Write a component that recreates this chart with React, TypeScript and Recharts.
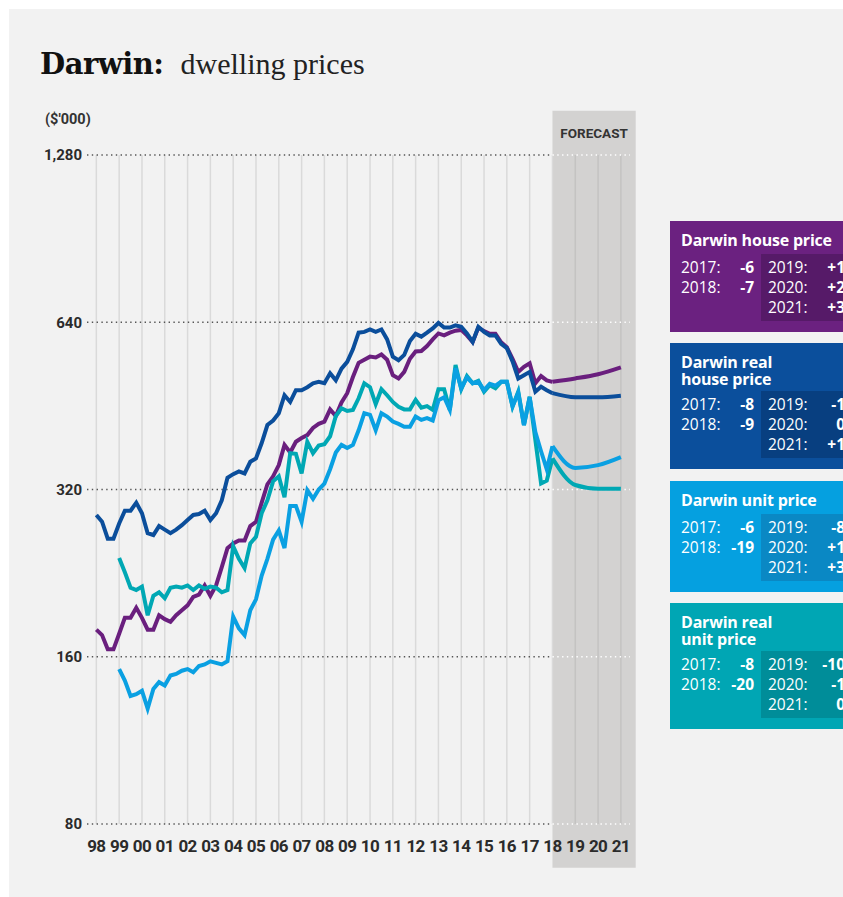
import React from "react";
import {
  LineChart,
  Line,
  XAxis,
  YAxis,
  ReferenceArea,
  ReferenceLine,
} from "recharts";

// x axis: one tick per year, labelled with two digits
const years = [
  1998, 1999, 2000, 2001, 2002, 2003, 2004, 2005, 2006, 2007, 2008, 2009,
  2010, 2011, 2012, 2013, 2014, 2015, 2016, 2017, 2018, 2019, 2020, 2021,
];
const yearLabels = [
  "98", "99", "00", "01", "02", "03", "04", "05", "06", "07", "08", "09",
  "10", "11", "12", "13", "14", "15", "16", "17", "18", "19", "20", "21",
];
const priceTicks = [80, 160, 320, 640, 1280];

// quarterly history, 1998 Q1 .. 2018 Q1 ($'000)
const housePrice = [
  179, 175, 165, 165, 176, 188, 188, 196, 188, 179, 179, 190,
  187, 185, 190, 194, 198, 205, 207, 215, 206, 215, 232, 251,
  256, 259, 259, 275, 280, 303, 327, 338, 354, 385, 373, 390,
  396, 401, 413, 420, 424, 446, 434, 459, 477, 510, 541, 548,
  555, 553, 560, 548, 514, 507, 521, 550, 567, 568, 580, 596,
  611, 606, 613, 618, 620, 606, 590, 626, 617, 610, 610, 589,
  577, 550, 521, 532, 540, 497, 512, 503, 500,
];
const realHousePrice = [
  288, 280, 261, 261, 278, 293, 293, 303, 290, 267, 265, 275,
  271, 267, 271, 276, 282, 288, 289, 293, 282, 290, 306, 336,
  341, 345, 342, 359, 364, 388, 418, 426, 439, 473, 460, 483,
  483, 489, 497, 500, 497, 518, 503, 528, 543, 572, 613, 615,
  621, 615, 621, 596, 555, 547, 559, 592, 610, 603, 613, 624,
  638, 626, 626, 632, 628, 611, 590, 628, 615, 606, 606, 585,
  575, 544, 507, 514, 521, 480, 490, 483, 477,
];
const unitPrice = [
  null, null, null, null, 152, 145, 136, 137, 139, 129, 140, 144,
  142, 148, 149, 151, 152, 150, 154, 155, 157, 156, 155, 157,
  189, 180, 175, 194, 203, 224, 240, 260, 270, 251, 299, 299,
  280, 319, 308, 320, 328, 348, 373, 385, 380, 385, 409, 439,
  436, 409, 439, 433, 424, 420, 415, 415, 433, 427, 430, 426,
  463, 469, 445, 529, 487, 509, 497, 500, 483, 496, 492, 500,
  500, 452, 478, 418, 469, 406, 375, 348, 383,
];
const realUnitPrice = [
  null, null, null, null, 241, 227, 213, 211, 214, 190, 206, 209,
  204, 213, 214, 213, 215, 211, 215, 212, 214, 213, 209, 211,
  253, 240, 231, 256, 263, 290, 306, 331, 338, 310, 372, 371,
  342, 390, 372, 384, 386, 399, 434, 448, 443, 445, 467, 497,
  489, 456, 485, 473, 460, 451, 446, 446, 464, 449, 452, 445,
  485, 485, 445, 536, 485, 512, 497, 502, 480, 493, 487, 500,
  500, 451, 480, 418, 470, 393, 328, 332, 364,
];

// annual forecast
const forecastYears = [2018, 2019, 2020, 2021];
const houseForecast = [500, 507, 516, 531];
const realHouseForecast = [477, 469, 469, 472];
const unitForecast = [383, 350, 354, 366];
const realUnitForecast = [364, 326, 321, 321];

// boxes on the right
const boxTitles = [
  ["Darwin house price"],
  ["Darwin real", "house price"],
  ["Darwin unit price"],
  ["Darwin real", "unit price"],
];
const pastYears = ["2017:", "2018:"];
const futureYears = ["2019:", "2020:", "2021:"];
const houseChange = ["-6", "-7", "+1", "+2", "+3"];
const realHouseChange = ["-8", "-9", "-1", "0", "+1"];
const unitChange = ["-6", "-19", "-8", "+1", "+3"];
const realUnitChange = ["-8", "-20", "-10", "-1", "0"];

const C_HOUSE = "#6a1f7e";
const C_REAL_HOUSE = "#0b4e9b";
const C_UNIT = "#0aa0e2";
const C_REAL_UNIT = "#00a8b4";

const X_MIN = 1997.59;
const X_MAX = 2021.4;

const rows: any[] = housePrice.map((v, i) => ({
  t: 1998 + i / 4,
  house: v,
  realHouse: realHousePrice[i],
  unit: unitPrice[i],
  realUnit: realUnitPrice[i],
}));
forecastYears.forEach((yr, i) => {
  let row = rows.find((r) => r.t === yr);
  if (!row) {
    row = { t: yr };
    rows.push(row);
  }
  row.houseF = houseForecast[i];
  row.realHouseF = realHouseForecast[i];
  row.unitF = unitForecast[i];
  row.realUnitF = realUnitForecast[i];
});

const sans = "Roboto, 'Noto Sans', sans-serif";
const boxFont = "'Open Sans', 'Noto Sans', sans-serif";

function InfoBox({ top, title, values, bg, inner }: any) {
  const extra = (title.length - 1) * 15;
  const innerTop = 33 + extra;
  const rowY = (i: number) => innerTop + 13 + i * 20 - 9;
  const txt = { position: "absolute", top: 0, fontSize: 15.5, lineHeight: "18px", whiteSpace: "nowrap" } as const;
  return (
    <div
      style={{
        position: "absolute",
        left: 670,
        top,
        width: 190,
        height: 111 + extra,
        background: bg,
        color: "#fff",
        fontFamily: boxFont,
      }}
    >
      <div
        style={{
          position: "absolute",
          left: 11,
          top: 11,
          fontSize: 16,
          fontWeight: 700,
          lineHeight: "16.6px",
          letterSpacing: -0.2,
          whiteSpace: "nowrap",
        }}
      >
        {title.map((t: string, i: number) => (
          <React.Fragment key={t}>
            {i > 0 && <br />}
            {t}
          </React.Fragment>
        ))}
      </div>
      <div
        style={{
          position: "absolute",
          left: 91,
          top: innerTop,
          width: 99,
          height: 67,
          background: inner,
        }}
      />
      {pastYears.map((y, i) => (
        <React.Fragment key={y}>
          <div style={{ ...txt, left: 11, top: rowY(i), fontWeight: 400 }}>{y}</div>
          <div style={{ ...txt, right: 190 - 84, top: rowY(i), fontWeight: 700 }}>{values[i]}</div>
        </React.Fragment>
      ))}
      {futureYears.map((y, i) => (
        <React.Fragment key={y}>
          <div style={{ ...txt, left: 98, top: rowY(i), fontWeight: 400 }}>{y}</div>
          <div style={{ ...txt, right: 190 - 175, top: rowY(i), fontWeight: 700 }}>{values[i + 2]}</div>
        </React.Fragment>
      ))}
    </div>
  );
}

export default function App() {
  return (
    <div
      style={{
        position: "absolute",
        left: 0,
        top: 0,
        width: 843,
        height: 897,
        overflow: "hidden",
        background: "#fff",
      }}
    >
      <div
        style={{
          position: "absolute",
          left: 9,
          top: 9,
          width: 834,
          height: 888,
          background: "#f2f2f2",
        }}
      />
      <div
        style={{
          position: "absolute",
          left: 40,
          top: 47,
          display: "flex",
          alignItems: "baseline",
          whiteSpace: "nowrap",
          color: "#111",
        }}
      >
        <span style={{ fontFamily: "'DejaVu Serif', serif", fontWeight: 700, fontSize: 29, letterSpacing: -0.5 }}>
          Darwin:
        </span>
        <span style={{ fontFamily: "'Liberation Serif', serif", fontSize: 30, marginLeft: 17, color: "#222" }}>
          dwelling prices
        </span>
      </div>
      <div
        style={{
          position: "absolute",
          left: 45,
          top: 111,
          fontFamily: sans,
          fontWeight: 700,
          fontSize: 14.5,
          color: "#333",
        }}
      >
        ($'000)
      </div>

      <div style={{ position: "absolute", left: 0, top: 0 }}>
        <LineChart
          width={660}
          height={897}
          data={rows}
          margin={{ top: 155, right: 30, bottom: 43, left: 27 }}
          style={{ fontFamily: sans }}
        >
          <ReferenceArea
            x1={2018}
            x2={2021.65}
            y1={66.7}
            y2={1538}
            ifOverflow="visible"
            fill="#d3d2d1"
            fillOpacity={1}
            stroke="none"
            label={{
              value: "FORECAST",
              position: "insideTop",
              offset: 18,
              fill: "#333",
              fontSize: 13.5,
              fontWeight: 700,
            }}
          />
          {years.map((y) => (
            <ReferenceLine
              key={"v" + y}
              segment={[{ x: y, y: 80 }, { x: y, y: 1280 }]}
              stroke={y > 2018 ? "#c4c3c2" : "#dadada"}
              strokeWidth={1.5}
            />
          ))}
          {priceTicks.map((v) => (
            <ReferenceLine
              key={"g" + v}
              segment={[{ x: X_MIN, y: v }, { x: 2018, y: v }]}
              stroke="#555"
              strokeWidth={1.4}
              strokeDasharray="1.4 3.4"
            />
          ))}
          {priceTicks.map((v) => (
            <ReferenceLine
              key={"w" + v}
              segment={[{ x: 2018, y: v }, { x: X_MAX, y: v }]}
              stroke="#fff"
              strokeWidth={1.4}
              strokeDasharray="1.4 3.4"
            />
          ))}
          <XAxis
            dataKey="t"
            type="number"
            domain={[X_MIN, X_MAX]}
            ticks={years}
            tickFormatter={(v) => yearLabels[years.indexOf(v)]}
            axisLine={false}
            tickLine={false}
            tickSize={6}
            tickMargin={10}
            height={30}
            interval={0}
            tick={{ fill: "#2b2b2b", fontSize: 17, fontWeight: 700, letterSpacing: -0.6 }}
          />
          <YAxis
            scale="log"
            domain={[80, 1280]}
            allowDataOverflow
            ticks={priceTicks}
            tickFormatter={(v) => v.toLocaleString("en-US")}
            axisLine={false}
            tickLine={false}
            tickSize={3}
            tickMargin={2}
            width={60}
            interval={0}
            tick={{ fill: "#2b2b2b", fontSize: 15, fontWeight: 700 }}
          />
          <Line dataKey="house" stroke={C_HOUSE} strokeWidth={4} dot={false} type="linear" isAnimationActive={false} />
          <Line dataKey="realHouse" stroke={C_REAL_HOUSE} strokeWidth={4} dot={false} type="linear" isAnimationActive={false} />
          <Line dataKey="realUnit" stroke={C_REAL_UNIT} strokeWidth={4} dot={false} type="linear" isAnimationActive={false} />
          <Line dataKey="unit" stroke={C_UNIT} strokeWidth={4} dot={false} type="linear" isAnimationActive={false} />
          <Line dataKey="houseF" stroke={C_HOUSE} strokeWidth={4} dot={false} type="monotone" isAnimationActive={false} />
          <Line dataKey="realHouseF" stroke={C_REAL_HOUSE} strokeWidth={4} dot={false} type="monotone" isAnimationActive={false} />
          <Line dataKey="realUnitF" stroke={C_REAL_UNIT} strokeWidth={4} dot={false} type="monotone" isAnimationActive={false} />
          <Line dataKey="unitF" stroke={C_UNIT} strokeWidth={4} dot={false} type="monotone" isAnimationActive={false} />
        </LineChart>
      </div>

      <InfoBox top={221} title={boxTitles[0]} values={houseChange} bg="#6b2180" inner="#561a68" />
      <InfoBox top={343} title={boxTitles[1]} values={realHouseChange} bg="#0b4f9c" inner="#083f80" />
      <InfoBox top={481} title={boxTitles[2]} values={unitChange} bg="#05a0e0" inner="#0a88c4" />
      <InfoBox top={603} title={boxTitles[3]} values={realUnitChange} bg="#00a6b4" inner="#008d99" />
    </div>
  );
}
